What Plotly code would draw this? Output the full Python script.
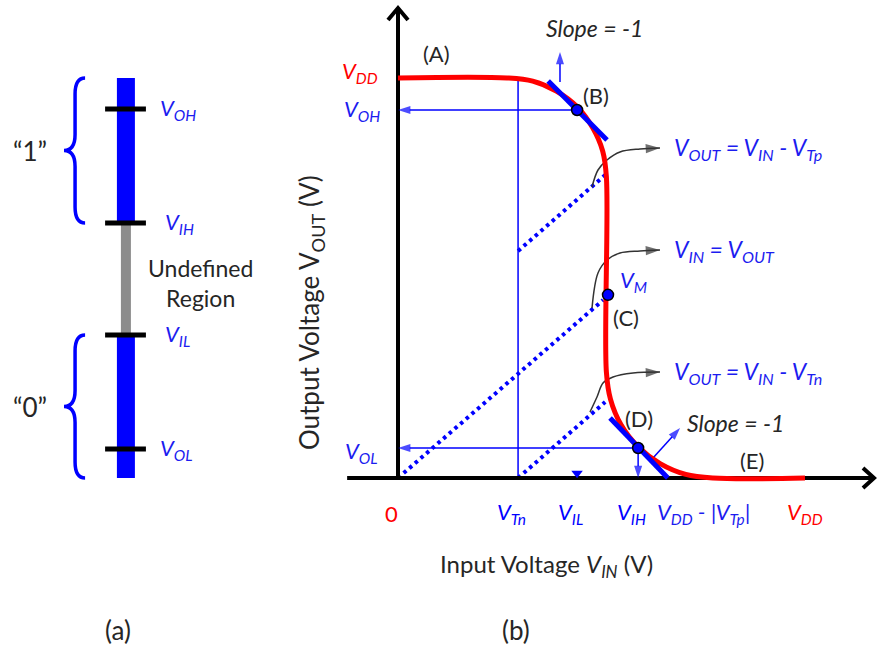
import plotly.graph_objects as go

# ---------------- data (voltages normalised to VDD = 1) ----------------
VDD = 1.0
VTN = 0.295            # V_Tn
VIL = 0.44             # V_IL
VIH = 0.59             # V_IH
VDD_M_VTP = 0.663      # V_DD - |V_Tp|
VOH = 0.92             # V_OH
VOL = 0.075            # V_OL
VM = (0.516, 0.458)    # switching threshold point

# voltage transfer characteristic
vtc_vin = [0.0, 0.268, 0.331, 0.389, 0.44, 0.478, 0.503, 0.512, 0.512,
           0.522, 0.548, 0.59, 0.644, 0.707, 0.774, 1.0]
vtc_vout = [1.0, 1.0, 0.992, 0.967, 0.928, 0.876, 0.817, 0.753, 0.265,
            0.197, 0.133, 0.078, 0.036, 0.009, 0.0, 0.0]

# dotted reference lines
ref_p_vin, ref_p_vout = [VTN, 0.509], [0.5675, 0.7575]   # VOUT = VIN - VTp
ref_m_vin, ref_m_vout = [0.0, 0.504], [0.0, 0.445]       # VIN = VOUT
ref_n_vin, ref_n_vout = [VTN, 0.509], [0.0, 0.19]        # VOUT = VIN - VTn

# unity-gain tangents
tan_b_vin, tan_b_vout = [0.369, 0.5135], [0.9925, 0.845]
tan_d_vin, tan_d_vout = [0.521, VDD_M_VTP], [0.15, 0.0]
point_b = (VIL, VOH)
point_d = (VIH, VOL)

# callout curves
call_p_x = [0.4767, 0.4914, 0.5135, 0.5455, 0.5946, 0.6437]
call_p_y = [0.7275, 0.77, 0.795, 0.815, 0.8225, 0.825]
call_m_x = [0.4767, 0.4914, 0.5135, 0.5455, 0.5946, 0.6437]
call_m_y = [0.425, 0.5125, 0.545, 0.5625, 0.5675, 0.57]
call_n_x = [0.4717, 0.4889, 0.5037, 0.5283, 0.5774, 0.6437]
call_n_y = [0.165, 0.2025, 0.2375, 0.2525, 0.2625, 0.265]
call_texts = ["<i>V<sub>OUT</sub> = V<sub>IN</sub> - V<sub>Tp</sub></i>",
              "<i>V<sub>IN</sub> = V<sub>OUT</sub></i>",
              "<i>V<sub>OUT</sub> = V<sub>IN</sub> - V<sub>Tn</sub></i>"]

# panel (a) logic levels
a_names = ["OH", "IH", "IL", "OL"]
a_levels = [0.9225, 0.6375, 0.3575, 0.0725]

# x tick labels of panel (b)
xtick_vals = [0.0, VTN, VIL, VIH]
xtick_text = ["0", "<i>V<sub>Tn</sub></i>", "<i>V<sub>IL</sub></i>", "<i>V<sub>IH</sub></i>"]
xtick_col = ["red", "blue", "blue", "blue"]

# ---------------- styling ----------------
BLUE = "#0000ff"
TBLUE = "#1c1cf0"
RED = "#ff0000"
DARK = "#262626"
FONT = "Lato"
SX, SY = 407.0, 400.0   # px per unit

fig = go.Figure()

def line(x, y, color, width, dash=None, xa="x", shape="linear"):
    fig.add_trace(go.Scatter(x=x, y=y, mode="lines", xaxis=xa, yaxis="y",
                             line=dict(color=color, width=width, dash=dash, shape=shape),
                             hoverinfo="skip", showlegend=False))

def arrow_line(x, y, color=BLUE, width=1.5, head=13, shape="linear"):
    n = len(x)
    fig.add_trace(go.Scatter(x=x, y=y, mode="lines+markers", xaxis="x", yaxis="y",
                             line=dict(color=color, width=width, shape=shape),
                             marker=dict(symbol="arrow", angleref="previous",
                                         size=[0] * (n - 1) + [head], color=color,
                                         line=dict(width=0)),
                             hoverinfo="skip", showlegend=False))

# ---- panel (b) ----
line([VTN, VTN], [0, VDD], BLUE, 1.5)
for xs, ys in [(ref_p_vin, ref_p_vout), (ref_m_vin, ref_m_vout), (ref_n_vin, ref_n_vout)]:
    line(xs, ys, BLUE, 4, dash="3.5px,4px")

# axes with chevrons
x_start, x_tip = -0.125, 1.1695
y_tip = 1.175
line([x_start, x_tip], [0, 0], "black", 4)
line([0, 0], [0, y_tip], "black", 4)
line([x_tip - 11 / SX, x_tip, x_tip - 11 / SX], [10 / SY, 0, -10 / SY], "black", 4)
line([-10 / SX, 0, 10 / SX], [y_tip - 12 / SY, y_tip, y_tip - 12 / SY], "black", 4)

# thin blue arrows
arrow_line([point_b[0], 0.0], [VOH, VOH])
arrow_line([point_d[0], 0.0], [VOL, VOL])
arrow_line([VIH, VIH], [VOL, 0.0])
arrow_line([0.398, 0.398], [0.99, 1.065])
arrow_line([0.6265, 0.693], [0.05, 0.125])

# gray callout arrows
for xs, ys in [(call_p_x, call_p_y), (call_m_x, call_m_y), (call_n_x, call_n_y)]:
    arrow_line(xs, ys, color="#333333", width=1.5, head=15, shape="spline")

line(vtc_vin, vtc_vout, RED, 5, shape="spline")
line(tan_b_vin, tan_b_vout, BLUE, 5)
line(tan_d_vin, tan_d_vout, BLUE, 5)

fig.add_trace(go.Scatter(x=[point_b[0], point_d[0], VM[0]], y=[point_b[1], point_d[1], VM[1]],
                         mode="markers", marker=dict(size=11, color=BLUE, line=dict(color="black", width=1.5)),
                         hoverinfo="skip", showlegend=False))
fig.add_trace(go.Scatter(x=[VIL], y=[0.012], mode="markers",
                         marker=dict(symbol="triangle-down", size=10, color=BLUE),
                         hoverinfo="skip", showlegend=False))

# ---- panel (a) ----
BAR_X = 0.478
line([BAR_X, BAR_X], [0, a_levels[2]], BLUE, 18, xa="x2")
line([BAR_X, BAR_X], [a_levels[1], VDD], BLUE, 18, xa="x2")
line([BAR_X, BAR_X], [a_levels[2], a_levels[1]], "#8c8c8c", 10, xa="x2")
for lv in a_levels:
    line([0.399, 0.554], [lv, lv], "black", 5, xa="x2")

ann = []
shapes = []

def brace(top, bot):
    mid = (top + bot) / 2
    d = 0.04
    xe, xs, xt = 0.323, 0.285, 0.243
    p = (f"M {xe},{top} Q {xs},{top} {xs},{top - d} L {xs},{mid + d} "
         f"Q {xs},{mid} {xt},{mid} Q {xs},{mid} {xs},{mid - d} "
         f"L {xs},{bot + d} Q {xs},{bot} {xe},{bot}")
    shapes.append(dict(type="path", path=p, xref="x2", yref="y",
                       line=dict(color=BLUE, width=3.5)))
    return mid

m1 = brace(VDD, a_levels[1])
m0 = brace(a_levels[2], 0.0)

def text(x, y, t, size=22, color=DARK, xa="x", xanchor="center", yanchor="middle",
         xshift=0, yshift=0, angle=0):
    ann.append(dict(x=x, y=y, xref=xa, yref="y", text=t, showarrow=False,
                    font=dict(family=FONT, size=size, color=color),
                    xanchor=xanchor, yanchor=yanchor, xshift=xshift, yshift=yshift,
                    textangle=angle))

text(0.114, m1, "\u201c1\u201d", size=26, xa="x2")
text(0.114, m0, "\u201c0\u201d", size=26, xa="x2")
for nm, lv in zip(a_names, a_levels):
    xx = 0.600 if nm.startswith("O") else 0.619
    text(xx, lv, f"<i>V<sub>{nm}</sub></i>", color=TBLUE, xa="x2", xanchor="left")
text(0.555, 0.4875, "Undefined<br>Region", size=23, xa="x2", xanchor="left")
text(0.448, -0.38, "(a)", size=26, xa="x2")

# panel (b) texts
for cx, cy, t in zip([call_p_x, call_m_x, call_n_x], [call_p_y, call_m_y, call_n_y], call_texts):
    text(cx[-1], cy[-1], t, size=23, color=TBLUE, xanchor="left", xshift=12)
text(VM[0], VM[1], "<i>V<sub>M</sub></i>", color=TBLUE, xanchor="left", xshift=10, yshift=14)
text(0.0958, 1.0625, "(A)")
text(0.4865, 0.9575, "(B)")
text(0.5602, 0.4025, "(C)")
text(0.5921, 0.15, "(D)")
text(0.8698, 0.045, "(E)")
text(0.4816, 1.125, "<i>Slope = -1</i>", size=23)
text(0.7052, 0.1375, "<i>Slope = -1</i>", size=23, xanchor="left")

for v, t, c in zip(xtick_vals, xtick_text, xtick_col):
    text(v, -0.0875, t, color=c, xshift=-7)
text(VDD_M_VTP, -0.0875, "<i>V<sub>DD</sub> - |V<sub>Tp</sub>|</i>", color=TBLUE, xanchor="left", xshift=-13)
text(VDD, -0.0875, "<i>V<sub>DD</sub></i>", color=RED)

text(0, VDD, "<i>V<sub>DD</sub></i>", color=RED, xanchor="right", xshift=-18, yshift=6)
text(0, VOH, "<i>V<sub>OH</sub></i>", color=TBLUE, xanchor="right", xshift=-16)
text(0, VOL, "<i>V<sub>OL</sub></i>", color=TBLUE, xanchor="right", xshift=-18, yshift=-4)

text(-0.216, 0.4125, "Output Voltage V<sub>OUT</sub> (V)", size=26, angle=-90)
text(0.364, -0.2175, "Input Voltage <i>V<sub>IN</sub></i> (V)", size=24)
text(0.29, -0.38, "(b)", size=26)

W, H = 878, 646
fig.update_layout(
    width=W, height=H, margin=dict(l=0, r=0, t=0, b=0),
    paper_bgcolor="white", plot_bgcolor="white",
    xaxis=dict(domain=[0, 1], range=[-398 / SX, (W - 398) / SX], visible=False, fixedrange=True),
    xaxis2=dict(domain=[0, 0.3], range=[0, 1], visible=False, anchor="y", fixedrange=True),
    yaxis=dict(domain=[0, 1], range=[(478 - H) / SY, 478 / SY], visible=False, fixedrange=True),
    annotations=ann, shapes=shapes, showlegend=False,
)
fig.write_html("out.html")
